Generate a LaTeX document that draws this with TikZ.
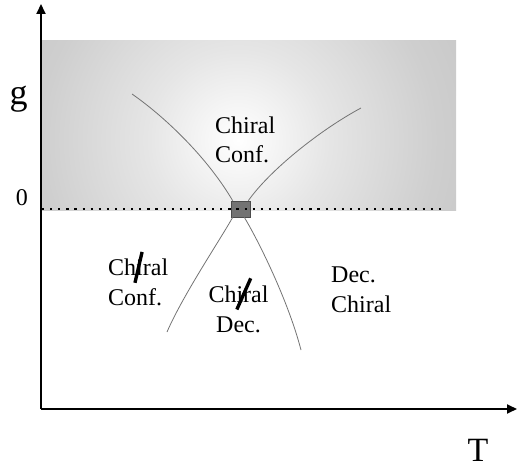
\documentclass[tikz,border=0pt]{standalone}
\usepackage{fontspec}
\setmainfont{Liberation Serif}
\usepackage{graphicx}
\usetikzlibrary{arrows.meta}

% an "i" struck through by a heavy slash: #1 angle, #2 length, #3 horizontal offset
\newcommand\struckI[3]{%
  \rlap{\kern#3\raisebox{-0.32em}{\rotatebox{#1}{\rule{#2}{0.14em}}}}i}

% soft glow: white in the middle, grey towards the edges
\pgfdeclareradialshading{haze}{\pgfpointorigin}{%
  color(0bp)=(white); color(8.7bp)=(gray!20); color(19bp)=(gray!38);
  color(25bp)=(gray!44); color(50bp)=(gray!44)}

\begin{document}
\begin{tikzpicture}[x=1pt,y=-1pt,
  axis/.style={line width=1.8pt, -{Triangle[length=10pt,width=9pt]}},
  phase/.style={draw=black!55, line width=0.8pt},
  regionlbl/.style={font=\fontsize{24}{29.5}\selectfont, inner sep=0pt, align=left, anchor=base west},
  axislbl/.style={inner sep=0pt}
]
\useasboundingbox (0,0) rectangle (517,468);

% shaded band above g = 0
\begin{scope}
  \clip (41,41) rectangle (456,210);
  \shade[shading=haze] (238,140) circle (260);
\end{scope}

% axes
\coordinate (O) at (41,409);
\coordinate (ytip) at (41,4);
\coordinate (xtip) at (517,409);
\draw[axis] (O) -- (ytip);
\draw[axis] (O) -- (xtip);

% critical point
\node[draw=black!70, fill=black!55, line width=0.6pt, inner sep=0pt,
      minimum width=19pt, minimum height=16pt] (qc) at (240.5,209) {};

% phase boundaries
\coordinate (ul) at (132,94);
\coordinate (ur) at (361,108);
\coordinate (ll) at (167,332);
\coordinate (lr) at (301,350);
\draw[phase] ([xshift=2pt]qc.north west) .. controls (207,157) and (165,117) .. (ul);
\draw[phase] ([xshift=-2pt]qc.north east) .. controls (270,170) and (320,130) .. (ur);
\draw[phase] ([xshift=2pt]qc.south west) .. controls (220,240) and (183,295) .. (ll);
\draw[phase] ([xshift=-6pt]qc.south east) .. controls (258,240) and (288,300) .. (lr);

% g = 0 line
\coordinate (d0) at (42,209);
\coordinate (d1) at (441,209);
\draw[line width=2.2pt, dash pattern=on 2.2pt off 5.9pt] (d0) -- (d1);

% axis labels
\node[axislbl, font=\fontsize{36}{36}\selectfont] (glbl) at (18.5,99.5) {g};
\node[axislbl, font=\fontsize{24}{24}\selectfont] (zlbl) at (22,198) {0};
\node[axislbl, font=\fontsize{34}{34}\selectfont] (tlbl) at (478,450.5) {T};

% phase labels (anchored on the baseline of their last line)
\node[regionlbl] (pa) at (215,163) {Chiral\\Conf.};
\node[regionlbl] (pb) at (108,305) {Ch\struckI{77}{1.32em}{-0.12em}ral\\Conf.};
\node[regionlbl, align=center, anchor=base] (pc) at (238.5,332) {Ch\struckI{66}{1.42em}{-0.05em}ral\\Dec.};
\node[regionlbl] (pd) at (331,312) {Dec.\\Chiral};
\end{tikzpicture}
\end{document}
